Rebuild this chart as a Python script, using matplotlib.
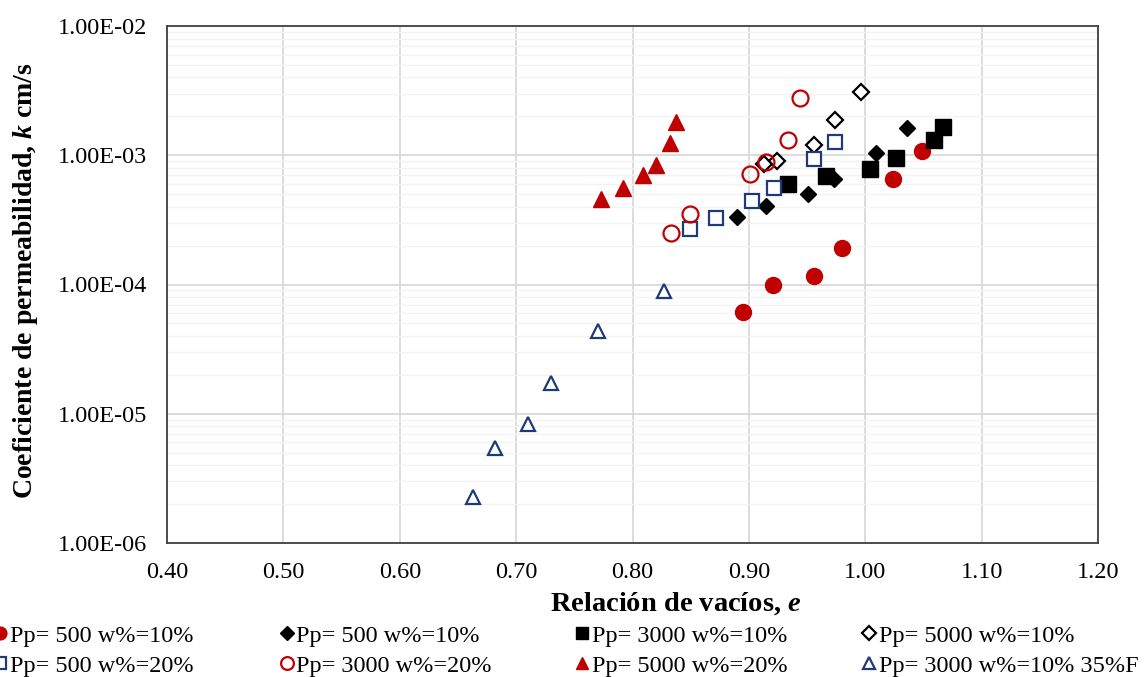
import matplotlib.pyplot as plt
import numpy as np
from matplotlib.ticker import FuncFormatter, MultipleLocator, LogLocator

plt.rcParams['font.family'] = ['Liberation Serif', 'DejaVu Serif']
plt.rcParams['mathtext.fontset'] = 'custom'
plt.rcParams['mathtext.bfit'] = 'Liberation Serif:italic:bold'
plt.rcParams['mathtext.it'] = 'Liberation Serif:italic'

RED = '#C00000'
NAVY = '#1F3A78'

# e (void ratio) and k (cm/s) per series
e_c500_10 = [0.895, 0.921, 0.956, 0.980, 1.024, 1.049]
k_c500_10 = [6.1e-5, 1.0e-4, 1.17e-4, 1.93e-4, 6.6e-4, 1.08e-3]

e_d500_10 = [0.890, 0.915, 0.951, 0.973, 1.009, 1.036]
k_d500_10 = [3.35e-4, 4.07e-4, 5.05e-4, 6.6e-4, 1.04e-3, 1.63e-3]

e_s3000_10 = [0.934, 0.966, 1.004, 1.026, 1.059, 1.067]
k_s3000_10 = [6.03e-4, 6.95e-4, 7.87e-4, 9.57e-4, 1.32e-3, 1.66e-3]

e_d5000_10 = [0.913, 0.924, 0.956, 0.974, 0.996]
k_d5000_10 = [8.6e-4, 9.08e-4, 1.2e-3, 1.88e-3, 3.09e-3]

e_s500_20 = [0.849, 0.872, 0.903, 0.922, 0.956, 0.974]
k_s500_20 = [2.70e-4, 3.29e-4, 4.45e-4, 5.61e-4, 9.4e-4, 1.27e-3]

e_c3000_20 = [0.833, 0.849, 0.901, 0.915, 0.934, 0.944]
k_c3000_20 = [2.52e-4, 3.53e-4, 7.19e-4, 8.9e-4, 1.32e-3, 2.78e-3]

e_t5000_20 = [0.773, 0.792, 0.809, 0.820, 0.832, 0.837]
k_t5000_20 = [4.61e-4, 5.61e-4, 7.06e-4, 8.45e-4, 1.25e-3, 1.82e-3]

e_t3000_35F = [0.663, 0.682, 0.710, 0.730, 0.770, 0.827]
k_t3000_35F = [2.26e-6, 5.42e-6, 8.3e-6, 1.72e-5, 4.34e-5, 8.83e-5]

fig = plt.figure(figsize=(11.45, 6.77), dpi=100)
ax = fig.add_axes([167 / 1145, 1 - 543 / 677, (1098 - 167) / 1145, (543 - 26) / 677])

handles = []
h, = ax.plot(e_c500_10, k_c500_10, ls='none', marker='o', ms=11.5, mfc=RED, mec=RED,
             label='Pp= 500 w%=10%')
handles.append(h)
h, = ax.plot(e_d500_10, k_d500_10, ls='none', marker='D', ms=8.5, mfc='black', mec='black',
             label='Pp= 500 w%=10%')
handles.append(h)
h, = ax.plot(e_s3000_10, k_s3000_10, ls='none', marker='s', ms=11, mfc='black', mec='black',
             label='Pp= 3000 w%=10%')
handles.append(h)
h, = ax.plot(e_d5000_10, k_d5000_10, ls='none', marker='D', ms=8.5, mfc='white', mec='black',
             mew=1.6, label='Pp= 5000 w%=10%')
handles.append(h)
h, = ax.plot(e_s500_20, k_s500_20, ls='none', marker='s', ms=10, mfc='white', mec=NAVY,
             mew=1.6, label='Pp= 500 w%=20%')
handles.append(h)
h, = ax.plot(e_c3000_20, k_c3000_20, ls='none', marker='o', ms=11.5, mfc='none', mec=RED,
             mew=1.6, label='Pp= 3000 w%=20%')
handles.append(h)
h, = ax.plot(e_t5000_20, k_t5000_20, ls='none', marker='^', ms=11, mfc=RED, mec=RED,
             label='Pp= 5000 w%=20%')
handles.append(h)
h, = ax.plot(e_t3000_35F, k_t3000_35F, ls='none', marker='^', ms=10.5, mfc='white', mec=NAVY,
             mew=1.6, label='Pp= 3000 w%=10% 35%F')
handles.append(h)

ax.set_yscale('log')
ax.set_ylim(1e-6, 1e-2)
ax.set_xlim(0.40, 1.20)
ax.xaxis.set_major_locator(MultipleLocator(0.1))
ax.xaxis.set_major_formatter(FuncFormatter(lambda v, p: f'{v:.2f}'))
ax.yaxis.set_major_locator(LogLocator(base=10, numticks=10))
ax.yaxis.set_minor_locator(LogLocator(base=10, subs=np.arange(2, 10), numticks=20))
ax.yaxis.set_major_formatter(FuncFormatter(lambda v, p: f'{v:.2E}'))
ax.yaxis.set_minor_formatter(FuncFormatter(lambda v, p: ''))

ax.grid(True, which='major', axis='both', color='#D9D9D9', lw=1.3)
ax.grid(True, which='minor', axis='y', color='#F3F3F3', lw=1.0)
ax.set_axisbelow(True)
ax.tick_params(which='both', length=0, labelsize=17.5)
ax.tick_params(axis='x', pad=14)
ax.tick_params(axis='y', pad=14)
for s in ax.spines.values():
    s.set_color('#404040')
    s.set_linewidth(1.3)

ax.set_xlabel(r'Relación de vacíos, $\mathbfit{e}$', fontsize=20.5, fontweight='bold')
ax.xaxis.set_label_coords(0.546, -0.091)
ax.set_ylabel(r'Coeficiente de permeabilidad, $\mathbfit{k}$ cm/s', fontsize=20,
              fontweight='bold')
ax.yaxis.set_label_coords(-0.136, 0.508)

# legend: 4 columns of 2 entries, evenly spaced like the original
cols = [(0, 4), (1, 5), (2, 6), (3, 7)]
xs = [-0.005, 0.245, 0.503, 0.754]
for (a, b), x0 in zip(cols, xs):
    fig.legend([handles[a], handles[b]], [handles[a].get_label(), handles[b].get_label()],
               loc='upper left', bbox_to_anchor=(x0, 0.077), frameon=False, fontsize=17.5,
               markerscale=0.8, handlelength=0.5, handletextpad=0.15, labelspacing=0.33,
               borderpad=0, borderaxespad=0)

fig.savefig('out.png', dpi=100)
